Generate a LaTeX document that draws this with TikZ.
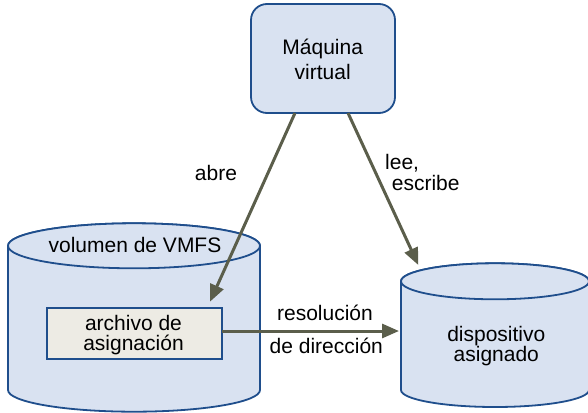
\documentclass[tikz,border=0pt]{standalone}
\usepackage{fontspec}
\setmainfont{Liberation Sans}
\usetikzlibrary{arrows.meta}
\definecolor{fillblue}{HTML}{D9E2F1}
\definecolor{edgeblue}{HTML}{1F4E8C}
\definecolor{arrowc}{HTML}{5B5E4B}
\definecolor{fillbeige}{HTML}{EDEBE4}
\begin{document}
\begin{tikzpicture}[x=1pt,y=1pt,
  shapeline/.style={draw=edgeblue, line width=1.8pt, fill=fillblue},
  conn/.style={draw=arrowc, line width=3pt, -{Triangle[length=17pt,width=14pt]}},
  lbl/.style={font=\fontsize{21}{24}\selectfont, text=black, inner sep=0pt, anchor=base}]
\useasboundingbox (0,0) rectangle (588,-412);

% left cylinder (VMFS volume)
\path[shapeline] (8,-245.8) -- (8,-390)
  arc[start angle=180,end angle=360,x radius=126,y radius=21.7]
  -- (260,-245.8)
  arc[start angle=0,end angle=180,x radius=126,y radius=22.5] -- cycle;
\draw[shapeline] (134,-245.8) ellipse[x radius=126,y radius=22.5];

% right cylinder (mapped device)
\path[shapeline] (401,-281.3) -- (401,-390)
  arc[start angle=180,end angle=360,x radius=94,y radius=17]
  -- (589,-281.3)
  arc[start angle=0,end angle=180,x radius=94,y radius=18] -- cycle;
\draw[shapeline] (495,-281.3) ellipse[x radius=94,y radius=18];

% virtual machine box
\node[shapeline, rounded corners=16pt, minimum width=144pt, minimum height=109pt, inner sep=0pt] (vm) at (323,-58.5) {};

% mapping file box
\node[draw=edgeblue, line width=1.8pt, fill=fillbeige, minimum width=175pt, minimum height=51pt, inner sep=0pt] (map) at (134.5,-333.5) {};

% texts
\node[lbl] (vm1) at (322.7,-55) {Máquina};
\node[lbl] (vm2) at (322.7,-79) {virtual};
\node[lbl] (vol) at (135,-252.3) {volumen de VMFS};
\node[lbl] (map1) at (133.5,-330.7) {archivo de};
\node[lbl] (map2) at (133.5,-350) {asignación};
\node[lbl] (dev1) at (496.3,-341.7) {dispositivo};
\node[lbl] (dev2) at (496.3,-361.7) {asignado};
\node[lbl] (abre) at (216,-180) {abre};
\node[lbl, anchor=base west] (lee1) at (385,-169.3) {lee,};
\node[lbl, anchor=base west] (lee2) at (391.7,-190.7) {escribe};
\node[lbl] (res1) at (325,-320) {resolución};
\node[lbl] (res2) at (326.3,-353.3) {de dirección};

% connectors
\coordinate (abreStart) at (295,-113);
\coordinate (abreEnd) at (210,-301.7);
\coordinate (leeStart) at (348,-113);
\coordinate (leeEnd) at (418.3,-265);
\coordinate (resStart) at (222,-331);
\coordinate (resEnd) at (399,-331);
\draw[conn] (abreStart) -- (abreEnd);
\draw[conn] (leeStart) -- (leeEnd);
\draw[conn] (resStart) -- (resEnd);
\end{tikzpicture}
\end{document}
